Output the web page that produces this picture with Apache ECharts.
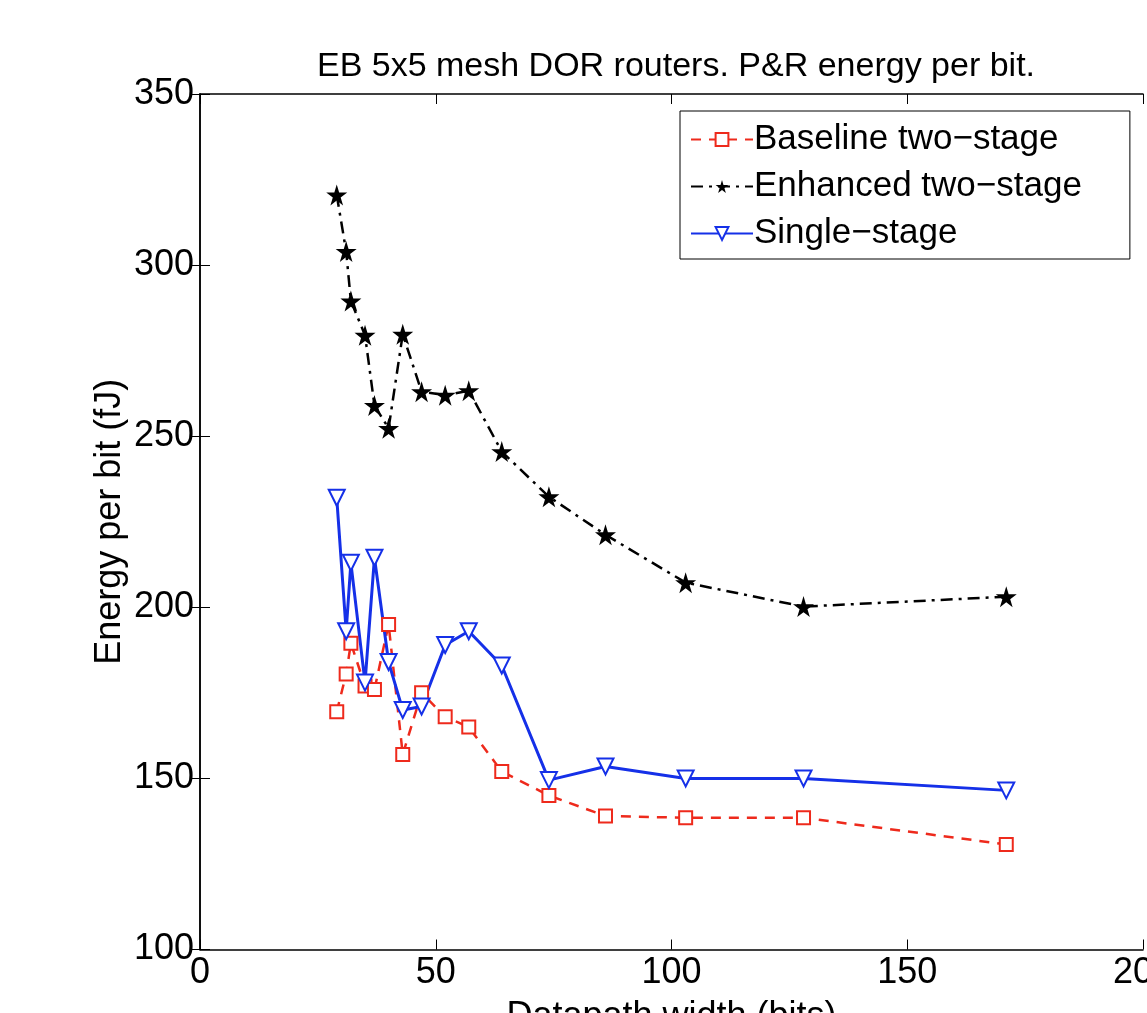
<!DOCTYPE html>
<html>
<head>
<meta charset="utf-8">
<script src="https://cdn.jsdelivr.net/npm/echarts@6/dist/echarts.min.js"></script>
<style>
  html, body { margin: 0; padding: 0; background: #fff; }
  #chart { width: 1147px; height: 1013px; }
</style>
</head>
<body>
<div id="chart"></div>
<script>
// datapath widths (bits)
const widths = [29, 31, 32, 35, 37, 40, 43, 47, 52, 57, 64, 74, 86, 103, 128, 171];
// energy per bit (fJ)
const baseline = [169.5, 180.5, 189.5, 177, 176, 195, 157, 175, 168, 165, 152, 145, 139, 138.5, 138.5, 130.7];
const enhanced = [320.5, 304, 289.5, 279.5, 259, 252.3, 279.8, 263, 262, 263.3, 245.5, 232.3, 221.2, 207.2, 200.2, 203.1];
const single = [232, 193, 213, 178, 214.5, 184, 170, 171, 189, 193, 183, 149.5, 153.5, 150, 150, 146.5];
const seriesNames = ['Baseline two\u2212stage', 'Enhanced two\u2212stage', 'Single\u2212stage'];

const font = '"Liberation Sans", Arial, sans-serif';
const star = 'path://M50,0 L61,35 L98,35 L68,57 L79,91 L50,70 L21,91 L32,57 L2,35 L39,35 Z';

function pairs(ys) {
  return widths.map((w, i) => [w, ys[i]]);
}

const chart = echarts.init(document.getElementById('chart'));

const axisLine = { show: true, lineStyle: { color: '#000', width: 1.5 } };
const tick = { show: true, inside: true, length: 10, lineStyle: { color: '#000', width: 1 } };

const option = {
  animation: false,
  backgroundColor: '#fff',
  title: {
    text: 'EB 5x5 mesh DOR routers. P&R energy per bit.',
    left: 671,
    top: 45,
    textAlign: 'center',
    textStyle: { fontFamily: font, fontWeight: 'normal', fontSize: 34, color: '#000' }
  },
  legend: {
    left: 680,
    top: 111,
    orient: 'vertical',
    backgroundColor: '#fff',
    borderColor: '#000',
    borderWidth: 1,
    borderRadius: 0,
    padding: [11, 48, 8, 10],
    itemWidth: 62,
    itemHeight: 16,
    itemGap: 12,
    textStyle: { fontFamily: font, fontSize: 35, color: '#000', padding: [0, 0, 0, -4] },
    data: seriesNames
  },
  grid: { left: 200, top: 94, right: 4, bottom: 63.5, containLabel: false, outerBoundsMode: 'none' },
  xAxis: [{
    type: 'value',
    min: 0, max: 200, interval: 50,
    name: 'Datapath width (bits)',
    nameLocation: 'middle',
    nameGap: 50,
    nameMoveOverlap: false,
    nameTextStyle: { fontFamily: font, fontSize: 36, color: '#000', verticalAlign: 'top' },
    axisLine: axisLine,
    axisTick: tick,
    axisLabel: { fontFamily: font, fontSize: 36, color: '#000', margin: 6 },
    splitLine: { show: false }
  }, {
    type: 'value',
    position: 'top',
    min: 0, max: 200, interval: 50,
    axisLine: axisLine,
    axisTick: tick,
    axisLabel: { show: false },
    splitLine: { show: false }
  }],
  yAxis: [{
    type: 'value',
    min: 100, max: 350, interval: 50,
    name: 'Energy per bit (fJ)',
    nameLocation: 'middle',
    nameGap: 72,
    nameMoveOverlap: false,
    nameTextStyle: { fontFamily: font, fontSize: 36, color: '#000' },
    axisLine: axisLine,
    axisTick: tick,
    axisLabel: { fontFamily: font, fontSize: 36, color: '#000', margin: 6 },
    splitLine: { show: false }
  }, {
    type: 'value',
    position: 'right',
    min: 100, max: 350, interval: 50,
    axisLine: axisLine,
    axisTick: tick,
    axisLabel: { show: false },
    splitLine: { show: false }
  }],
  series: [{
    name: seriesNames[0],
    type: 'line',
    data: pairs(baseline),
    color: '#ee2a1c',
    lineStyle: { color: '#ee2a1c', width: 2.5, type: [10, 8] },
    symbol: 'emptyRect',
    symbolSize: 13,
    itemStyle: { color: '#ee2a1c', borderWidth: 2.5 }
  }, {
    name: seriesNames[1],
    type: 'line',
    data: pairs(enhanced),
    color: '#000',
    lineStyle: { color: '#000', width: 2.5, type: [12, 6, 3, 6] },
    symbol: star,
    symbolSize: 21,
    itemStyle: { color: '#000' }
  }, {
    name: seriesNames[2],
    type: 'line',
    data: pairs(single),
    color: '#1530e8',
    lineStyle: { color: '#1530e8', width: 3, type: 'solid' },
    symbol: 'emptyTriangle',
    symbolRotate: 180,
    symbolSize: 16,
    itemStyle: { color: '#1530e8', borderWidth: 2.5 }
  }]
};

chart.setOption(option);
</script>
</body>
</html>
